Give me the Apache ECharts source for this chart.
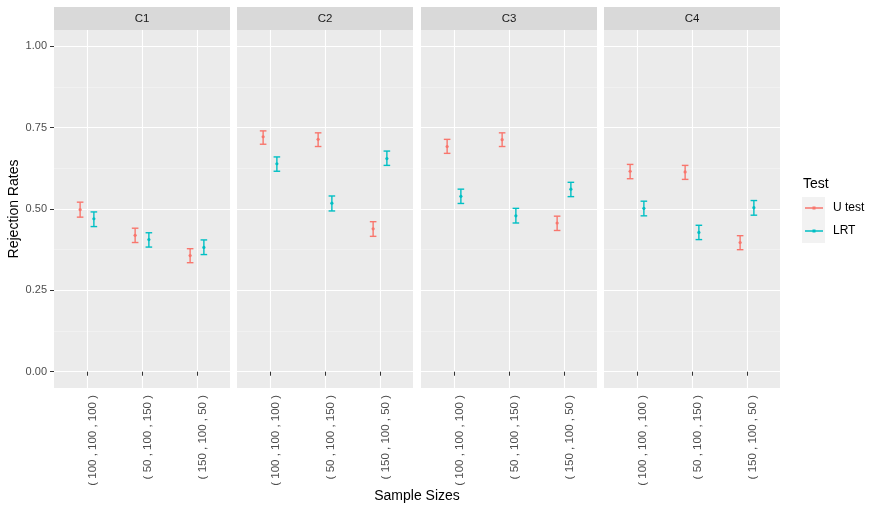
<!DOCTYPE html>
<html lang="en">
<head>
    <meta charset="utf-8">
    <title>Rejection Rates</title>
    <script src="https://cdn.jsdelivr.net/npm/echarts@6.0.0/dist/echarts.min.js"></script>
    <style>
        html, body { margin: 0; padding: 0; background: #fff; }
        #chart { width: 878px; height: 513px; }
    </style>
</head>
<body>
<div id="chart"></div>
<script type="text/javascript">
    // facet panels and x categories
    var panels = ['C1', 'C2', 'C3', 'C4'];
    var sizeLabels = ['( 100 , 100 , 100 )', '( 50 , 100 , 150 )', '( 150 , 100 , 50 )'];
    var tests = ['U test', 'LRT'];
    var yTicks = [0, 0.25, 0.5, 0.75, 1];
    var yMinor = [0.125, 0.375, 0.625, 0.875];

    // U test: estimate, lower, upper (one row per panel, one value per sample size)
    var uEst = [[0.498, 0.419, 0.357], [0.722, 0.714, 0.439], [0.692, 0.713, 0.457], [0.616, 0.614, 0.397]];
    var uLow = [[0.475, 0.397, 0.335], [0.699, 0.692, 0.416], [0.671, 0.692, 0.434], [0.593, 0.591, 0.375]];
    var uHigh = [[0.521, 0.441, 0.378], [0.740, 0.734, 0.461], [0.714, 0.734, 0.478], [0.637, 0.634, 0.418]];

    // LRT
    var lrtEst = [[0.470, 0.406, 0.382], [0.639, 0.518, 0.655], [0.539, 0.479, 0.561], [0.502, 0.428, 0.504]];
    var lrtLow = [[0.446, 0.383, 0.360], [0.616, 0.494, 0.634], [0.517, 0.457, 0.538], [0.479, 0.406, 0.481]];
    var lrtHigh = [[0.491, 0.427, 0.405], [0.660, 0.540, 0.678], [0.561, 0.502, 0.582], [0.524, 0.450, 0.526]];

    var colors = ['#F8766D', '#00BFC4'];
    var font = "'Liberation Sans', Arial, Helvetica, sans-serif";

    var chart = echarts.init(document.getElementById('chart'), null, {renderer: 'canvas'});

    // panel layout (pixels)
    var panelLeft = [54, 237, 421, 604];
    var panelWidth = 176;
    var panelTop = 30;
    var panelHeight = 358;

    var dodge = [-0.125, 0.125];
    var capHalf = 0.06;

    function makeRender(off, color) {
        return function (params, api) {
            var x = api.value(0) + off;
            var est = api.value(1), lo = api.value(2), hi = api.value(3);
            var top = api.coord([x, hi]);
            var bot = api.coord([x, lo]);
            var mid = api.coord([x, est]);
            var l = api.coord([x - capHalf, hi])[0];
            var r = api.coord([x + capHalf, hi])[0];
            var st = {stroke: color, lineWidth: 1.4};
            return {
                type: 'group',
                children: [
                    {type: 'line', shape: {x1: top[0], y1: top[1], x2: bot[0], y2: bot[1]}, style: st},
                    {type: 'line', shape: {x1: l, y1: top[1], x2: r, y2: top[1]}, style: st},
                    {type: 'line', shape: {x1: l, y1: bot[1], x2: r, y2: bot[1]}, style: st},
                    {type: 'circle', shape: {cx: mid[0], cy: mid[1], r: 1.6}, style: {fill: color}}
                ]
            };
        };
    }

    var grids = [], xAxes = [], yAxes = [], series = [], graphics = [];

    for (var p = 0; p < panels.length; p++) {
        grids.push({
            left: panelLeft[p], top: panelTop, width: panelWidth, height: panelHeight,
            show: true, backgroundColor: '#EBEBEB', borderWidth: 0
        });
        xAxes.push({
            type: 'value', gridIndex: p, min: 0.4, max: 3.6,
            axisLine: {show: false},
            axisTick: {show: true, length: 4, customValues: [1, 2, 3], lineStyle: {color: '#333', width: 1}},
            axisLabel: {
                customValues: [1, 2, 3], rotate: 90, margin: 7, verticalAlign: 'top',
                fontSize: 11.5, color: '#4D4D4D', fontFamily: font,
                formatter: function (v) { return sizeLabels[Math.round(v) - 1]; }
            },
            splitLine: {show: true, lineStyle: {color: '#FFFFFF', width: 1.1}}
        });
        // major y axis
        yAxes.push({
            type: 'value', gridIndex: p, min: -0.05, max: 1.05,
            axisLine: {show: false},
            axisTick: {show: p === 0, length: 4, customValues: yTicks, lineStyle: {color: '#333', width: 1}},
            axisLabel: {
                show: p === 0, customValues: yTicks, margin: 7,
                fontSize: 11, color: '#4D4D4D', fontFamily: font,
                formatter: function (v) { return v.toFixed(2); }
            },
            splitLine: {show: true, lineStyle: {color: '#FFFFFF', width: 1.1}},
            name: p === 0 ? 'Rejection Rates' : '',
            nameLocation: 'middle', nameRotate: 90, nameGap: 33,
            nameTextStyle: {fontSize: 14, color: '#000', fontFamily: font}
        });
        // minor y grid lines
        yAxes.push({
            type: 'value', gridIndex: p, min: -0.05, max: 1.05,
            axisLine: {show: false},
            axisTick: {show: false, customValues: yMinor},
            axisLabel: {show: false, customValues: yMinor},
            splitLine: {show: true, lineStyle: {color: '#F5F5F5', width: 0.6}}
        });

        var groups = [[uEst, uLow, uHigh], [lrtEst, lrtLow, lrtHigh]];
        for (var t = 0; t < tests.length; t++) {
            var data = [];
            for (var i = 0; i < sizeLabels.length; i++) {
                data.push([i + 1, groups[t][0][p][i], groups[t][1][p][i], groups[t][2][p][i]]);
            }
            series.push({
                name: tests[t], type: 'custom',
                xAxisIndex: p, yAxisIndex: p * 2,
                itemStyle: {color: colors[t]},
                encode: {x: 0, y: [1, 2, 3]},
                renderItem: makeRender(dodge[t], colors[t]),
                data: data, z: 3, silent: true
            });
        }

        // facet strip
        graphics.push({
            type: 'rect', left: panelLeft[p], top: 7,
            shape: {width: panelWidth, height: 23},
            style: {fill: '#D9D9D9'}
        });
        graphics.push({
            type: 'text', x: panelLeft[p] + panelWidth / 2, y: 18.5,
            style: {text: panels[p], fill: '#1A1A1A', font: '11.5px ' + font, align: 'center', verticalAlign: 'middle'}
        });
    }

    // x axis title
    graphics.push({
        type: 'text', x: 417, y: 496,
        style: {text: 'Sample Sizes', fill: '#000', font: '14px ' + font, align: 'center', verticalAlign: 'middle'}
    });
    // legend title and key background
    graphics.push({
        type: 'text', x: 803, y: 184,
        style: {text: 'Test', fill: '#000', font: '14px ' + font, align: 'left', verticalAlign: 'middle'}
    });
    graphics.push({
        type: 'rect', left: 802, top: 197,
        shape: {width: 23, height: 46},
        style: {fill: '#F2F2F2'}
    });

    var option = {
        animation: false,
        grid: grids,
        xAxis: xAxes,
        yAxis: yAxes,
        series: series,
        graphic: graphics,
        legend: {
            data: tests,
            orient: 'vertical',
            left: 800, top: 197,
            itemWidth: 18, itemHeight: 3, itemGap: 11,
            icon: 'path://M0,0.8 L18,0.8 L18,2.2 L0,2.2 Z M7.5,0 L10.5,0 L10.5,3 L7.5,3 Z',
            textStyle: {fontSize: 12, color: '#000', fontFamily: font, padding: [0, 0, 0, 5]},
            selectedMode: false
        }
    };
    chart.setOption(option);
</script>
</body>
</html>
